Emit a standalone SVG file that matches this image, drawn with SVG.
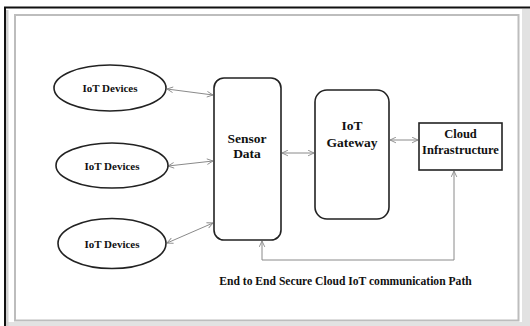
<svg xmlns="http://www.w3.org/2000/svg" width="530" height="326" viewBox="0 0 530 326">
<defs>
<style>
.node{fill:#fff;stroke:#222;stroke-width:1.6}
text{font-family:'Liberation Serif',serif;font-weight:bold;fill:#111;text-anchor:middle}
.small{font-size:11px}
.big{font-size:13.5px}
.conn{fill:none;stroke:#8a8a8a;stroke-width:1}
</style>
<marker id="arr" viewBox="0 0 10 10" refX="9.5" refY="5" markerWidth="7" markerHeight="7" orient="auto-start-reverse" markerUnits="userSpaceOnUse">
<path d="M1,1 L9.5,5 L1,9" fill="none" stroke="#8a8a8a" stroke-width="1.3"/>
</marker>
</defs>
<rect x="0" y="0" width="530" height="326" fill="#fff"/>
<g id="frame">
<rect x="522" y="9" width="8" height="317" fill="#e2e2e2"/>
<rect x="6" y="322" width="524" height="4" fill="#e2e2e2"/>
<line x1="7" y1="10" x2="7" y2="326" stroke="#d0d0d0" stroke-width="3"/>
<line x1="4" y1="7.5" x2="530" y2="7.5" stroke="#111" stroke-width="2"/>
<line x1="5" y1="7" x2="5" y2="326" stroke="#111" stroke-width="2"/>
<rect x="15" y="15" width="503.5" height="305.5" fill="#fff" stroke="#bdbdbd" stroke-width="2"/>
</g>
<g id="connectors">
<line class="conn" x1="167" y1="89" x2="213" y2="95" marker-start="url(#arr)" marker-end="url(#arr)"/>
<line class="conn" x1="168" y1="166" x2="213" y2="161" marker-start="url(#arr)" marker-end="url(#arr)"/>
<line class="conn" x1="167" y1="243" x2="213" y2="223" marker-start="url(#arr)" marker-end="url(#arr)"/>
<line class="conn" x1="282" y1="153" x2="314" y2="153" marker-start="url(#arr)" marker-end="url(#arr)"/>
<line class="conn" x1="390" y1="140" x2="418" y2="140" marker-start="url(#arr)" marker-end="url(#arr)"/>
<polyline class="conn" points="262,241 262,260 454,260 454,171" marker-start="url(#arr)" marker-end="url(#arr)"/>
</g>
<g id="iot1">
<ellipse class="node" cx="110" cy="88" rx="56" ry="23"/>
<text class="small" x="110" y="91.5" font-family="Liberation Serif, serif">IoT Devices</text>
</g>
<g id="iot2">
<ellipse class="node" cx="112" cy="165.5" rx="56" ry="22.5"/>
<text class="small" x="112" y="169.5" font-family="Liberation Serif, serif">IoT Devices</text>
</g>
<g id="iot3">
<ellipse class="node" cx="112" cy="243.5" rx="54" ry="25"/>
<text class="small" x="112" y="247.5" font-family="Liberation Serif, serif">IoT Devices</text>
</g>
<g id="sensor">
<rect class="node" x="214" y="78" width="67" height="162" rx="10"/>
<text class="big" x="247" y="143" font-family="Liberation Serif, serif">Sensor</text>
<text class="big" x="247" y="158" font-family="Liberation Serif, serif">Data</text>
</g>
<g id="gateway">
<rect class="node" x="315" y="90" width="74" height="129" rx="12"/>
<text class="big" x="352" y="130" font-family="Liberation Serif, serif">IoT</text>
<text class="big" x="352" y="147" font-family="Liberation Serif, serif">Gateway</text>
</g>
<g id="cloud">
<rect class="node" x="419" y="123" width="83" height="47" stroke-width="2"/>
<text x="460.5" y="138" font-size="12.5" font-family="Liberation Serif, serif">Cloud</text>
<text x="460.5" y="154" font-size="12.5" font-family="Liberation Serif, serif">Infrastructure</text>
</g>
<g id="caption">
<text x="345.5" y="285" font-size="11.6" font-family="Liberation Serif, serif">End to End Secure Cloud IoT communication Path</text>
</g>
</svg>
